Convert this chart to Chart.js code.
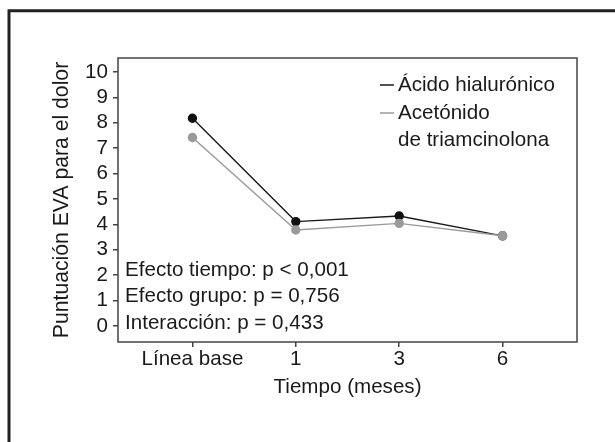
<!DOCTYPE html>
<html>
<head>
<meta charset="utf-8">
<script src="https://cdn.jsdelivr.net/npm/chart.js@4/dist/chart.umd.min.js"></script>
<style>
  html, body { margin: 0; padding: 0; background: #fff; }
  #wrap { width: 615px; height: 442px; }
</style>
</head>
<body>
<div id="wrap"><canvas id="chart" width="615" height="442"></canvas></div>
<script>
// --- data ---
const timeLabels = ['Línea base', '1', '3', '6'];
const timeIndex = [0, 1, 2, 3];
const hyaluronic = [8.18, 4.11, 4.33, 3.55];
const triamcinolone = [7.42, 3.78, 4.04, 3.55];
const yTickValues = [0, 1, 2, 3, 4, 5, 6, 7, 8, 9, 10];
const seriesNames = ['Ácido hialurónico', ['Acetónido', 'de triamcinolona']];
const statsLines = [
    'Efecto tiempo: p < 0,001',
    'Efecto grupo: p = 0,756',
    'Interacción: p = 0,433'
];

const FONT = '"Liberation Sans", Arial, Helvetica, sans-serif';
const FS = 20.6;
const INK = '#1a1a1a';
const AXIS = '#444';
const GREY = '#9a9a9a';

const toPoints = (vals) => timeIndex.map((x, i) => ({ x, y: vals[i] }));

/** Outer frame, plot box, legend and the p-value notes. */
const decorations = {
    id: 'decorations',
    beforeDraw(chart) {
        const { ctx, width, height } = chart;
        ctx.save();
        ctx.fillStyle = '#fff';
        ctx.fillRect(0, 0, width, height);
        ctx.strokeStyle = '#222';
        ctx.lineWidth = 3;
        ctx.beginPath();
        ctx.moveTo(9, height);
        ctx.lineTo(9, 10.8);
        ctx.lineTo(width, 10.8);
        ctx.stroke();
        ctx.restore();
    },
    afterDraw(chart) {
        const { ctx, chartArea: a } = chart;
        ctx.save();
        ctx.strokeStyle = AXIS;
        ctx.lineWidth = 1.5;
        ctx.strokeRect(a.left, a.top, a.right - a.left, a.bottom - a.top);

        ctx.font = FS + 'px ' + FONT;
        ctx.textBaseline = 'middle';
        ctx.textAlign = 'left';
        ctx.fillStyle = INK;

        // legend (top right)
        const lx = a.left + 262, tx = a.left + 280;
        const rows = [a.top + 27, a.top + 55];
        chart.data.datasets.forEach((ds, i) => {
            const y = rows[i];
            ctx.strokeStyle = ds.borderColor;
            ctx.lineWidth = 1.5;
            ctx.beginPath();
            ctx.moveTo(lx, y);
            ctx.lineTo(lx + 14, y);
            ctx.stroke();
            const label = [].concat(seriesNames[i]);
            label.forEach((line, j) => ctx.fillText(line, tx, y + j * 27));
        });

        // stats (bottom left)
        statsLines.forEach((line, i) => {
            ctx.fillText(line, a.left + 7, a.bottom - 72 + i * 26.5);
        });
        ctx.restore();
    }
};

new Chart(document.getElementById('chart'), {
    type: 'line',
    data: {
        datasets: [
            {
                label: 'Ácido hialurónico',
                data: toPoints(hyaluronic),
                borderColor: INK,
                backgroundColor: '#111',
                pointBackgroundColor: '#111',
                pointBorderColor: '#111',
                borderWidth: 1.4,
                pointRadius: 4,
                order: 1
            },
            {
                label: 'Acetónido de triamcinolona',
                data: toPoints(triamcinolone),
                borderColor: GREY,
                backgroundColor: GREY,
                pointBackgroundColor: GREY,
                pointBorderColor: GREY,
                borderWidth: 1.4,
                pointRadius: 4,
                order: 0
            }
        ]
    },
    options: {
        responsive: false,
        animation: false,
        devicePixelRatio: 1,
        layout: { padding: { left: 40, right: 38, top: 58, bottom: 42 } },
        plugins: {
            legend: { display: false },
            tooltip: { enabled: false }
        },
        scales: {
            x: {
                type: 'linear',
                min: -0.72,
                max: 3.72,
                afterFit(scale) { scale.height = 58; },
                afterBuildTicks(scale) { scale.ticks = timeIndex.map(v => ({ value: v })); },
                border: { display: false },
                grid: { drawOnChartArea: false, drawTicks: true, tickLength: 5, color: AXIS, lineWidth: 1.5 },
                ticks: {
                    padding: 0,
                    color: INK,
                    font: { family: FONT, size: FS },
                    maxRotation: 0,
                    callback: (v) => timeLabels[v] ?? ''
                },
                title: {
                    display: true,
                    text: 'Tiempo (meses)',
                    color: INK,
                    font: { family: FONT, size: FS },
                    padding: 0
                }
            },
            y: {
                min: -0.63,
                max: 10.55,
                afterFit(scale) { scale.width = 78; },
                afterBuildTicks(scale) { scale.ticks = yTickValues.map(v => ({ value: v })); },
                border: { display: false },
                grid: { drawOnChartArea: false, drawTicks: true, tickLength: 5, color: AXIS, lineWidth: 1.5 },
                ticks: {
                    padding: 5,
                    color: INK,
                    font: { family: FONT, size: FS }
                },
                title: {
                    display: true,
                    text: 'Puntuación EVA para el dolor',
                    color: INK,
                    font: { family: FONT, size: 21.2 },
                    padding: { top: 9, bottom: 0 }
                }
            }
        }
    },
    plugins: [decorations]
});
</script>
</body>
</html>
